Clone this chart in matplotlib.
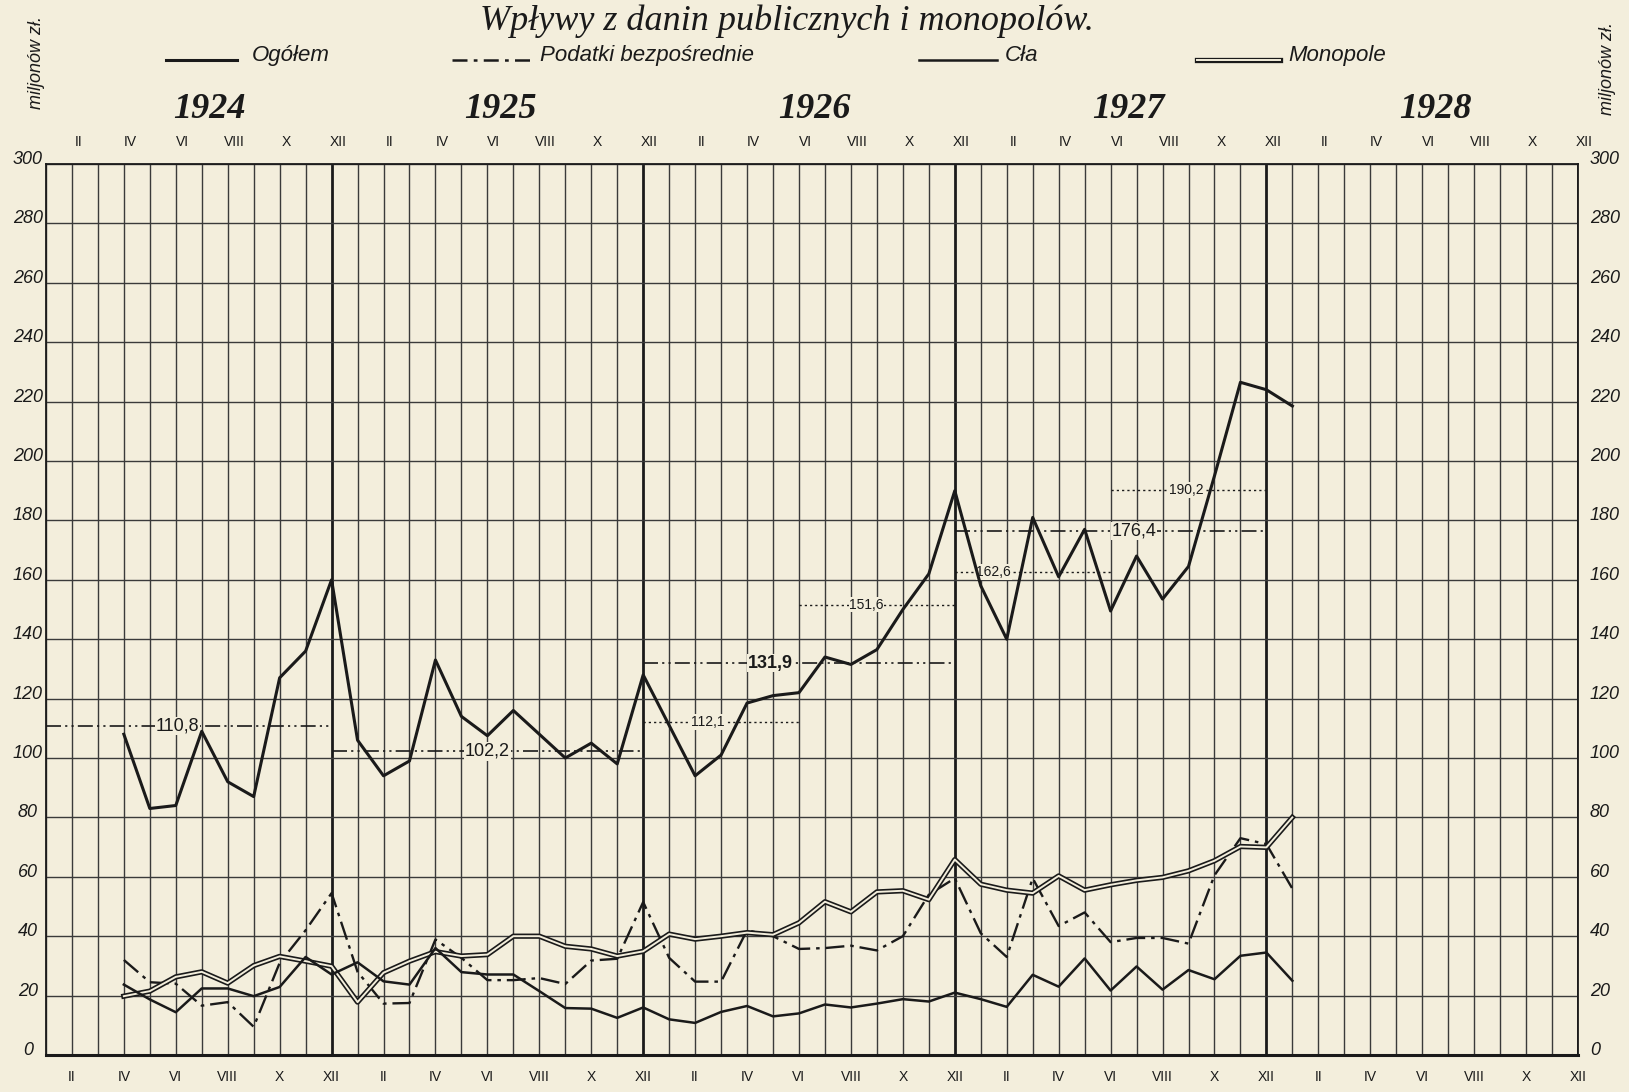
import numpy as np
import matplotlib.pyplot as plt
from matplotlib.lines import Line2D
import matplotlib.transforms as mtransforms

# month index: 0 = I 1924 ... 59 = XII 1928; series run from IV 1924 to I 1928
months = np.arange(3, 49)

ogolem = [108, 83, 84, 109, 92, 87, 127, 136, 160,
          106, 94, 99, 133, 114, 107.5, 116, 108, 100, 105, 98, 128,
          111, 94, 101, 118.5, 121, 122, 134, 131.5, 136.5, 150, 162, 190,
          158, 140, 181, 161, 177, 149.5, 168, 153.5, 164.5, 195, 226.5, 224,
          218.5]
podatki = [32, 24.5, 24, 16.6, 17.8, 9.5, 31, 42, 54.5,
           28, 17.3, 17.5, 38.9, 32.7, 25.2, 25.2, 25.9, 23.9, 31.8, 32.4, 51.5,
           32.7, 24.7, 24.7, 42, 40, 35.7, 36, 36.8, 35.2, 40, 54, 59.5,
           41, 33, 59.5, 43.4, 48, 38, 39.4, 39.4, 37.5, 60.5, 73, 71,
           56]
cla = [23.7, 18.7, 14.4, 22.4, 22.4, 19.8, 22.9, 33, 27.1,
       31.2, 24.8, 23.7, 36, 27.9, 27.1, 27.1, 21.5, 15.8, 15.6, 12.5, 16,
       12, 10.8, 14.5, 16.5, 13, 14, 17, 16, 17.3, 18.8, 18, 21,
       18.8, 16.2, 27, 23, 32.5, 21.7, 29.8, 22, 28.6, 25.5, 33.4, 34.5,
       25]
monopole = [19.8, 21.5, 26.3, 28, 24.2, 30.1, 33.2, 31.6, 29.9,
            17.8, 27.7, 31.6, 34.8, 33.3, 33.8, 40, 40, 36.6, 35.7, 33.3, 34.9,
            40.7, 39, 40, 41.2, 40.5, 44.5, 51.6, 48.2, 54.9, 55.3, 52.3, 65.8,
            57.5, 55.5, 54.5, 60.3, 55.5, 57.3, 58.8, 59.8, 62, 65.4, 70.2, 69.9,
            80]

# averages: value, start month, end month, label month, yearly (else half-year)
avg_values = [110.8, 102.2, 112.1, 131.9, 151.6, 162.6, 176.4, 190.2]
avg_start = [0, 11, 23, 23, 29, 35, 35, 41]
avg_end = [11, 23, 29, 35, 35, 41, 47, 47]
avg_label_x = [5.05, 17.0, 25.5, 27.9, 31.6, 36.5, 41.9, 43.9]
avg_yearly = [True, True, False, True, False, False, True, False]

years = ["1924", "1925", "1926", "1927", "1928"]
month_names = ["II", "IV", "VI", "VIII", "X", "XII"]

bg = '#f3eedc'
ink = '#1a1a1a'
grid_c = '#3a3a3a'

fig = plt.figure(figsize=(16.29, 10.92), dpi=100, facecolor=bg)
ax = fig.add_axes([0.0282, 0.0339, 0.9405, 0.8159])
ax.set_facecolor(bg)
ax.set_xlim(0, 59)
ax.set_ylim(0, 300)

# grid
for m in range(60):
    lw = 2.0 if m % 12 == 11 else 1.0
    ax.axvline(m, color=ink if lw > 1 else grid_c, lw=lw, zorder=1)
for v in range(0, 301, 20):
    ax.axhline(v, color=grid_c, lw=1.0, zorder=1)
for s in ax.spines.values():
    s.set_color(ink)
    s.set_linewidth(1.3)
ax.spines['bottom'].set_linewidth(2.2)
ax.set_xticks([])
ax.set_yticks([])

# average lines
dashdotdot = (0, (9, 2.5, 1.3, 2.5, 1.3, 2.5))
for v, a, b, lx, yearly in zip(avg_values, avg_start, avg_end, avg_label_x, avg_yearly):
    ls = dashdotdot if yearly else (0, (1.6, 2.2))
    ax.plot([a, b], [v, v], color=ink, lw=1.2 if yearly else 1.0, ls=ls, zorder=2)
    txt = f"{v:.1f}".replace('.', ',')
    ax.text(lx, v, txt, ha='center', va='center', zorder=3,
            fontsize=13 if yearly else 10,
            family=['Liberation Sans Narrow', 'Liberation Sans'],
            fontweight='bold' if v == 131.9 else 'normal', color=ink,
            bbox=dict(facecolor=bg, edgecolor='none', pad=0.5))

# series
ax.plot(months, ogolem, color=ink, lw=2.2, zorder=5)
ax.plot(months, cla, color=ink, lw=1.8, zorder=5)
ax.plot(months, podatki, color=ink, lw=1.7, ls=(0, (8, 2.5, 1.5, 2.5)), zorder=4)
ax.plot(months, monopole, color=ink, lw=3.8, zorder=4)
ax.plot(months, monopole, color=bg, lw=1.4, zorder=4)

# month labels top and bottom
tr = mtransforms.blended_transform_factory(ax.transData, ax.transAxes)
for k in range(5):
    for i, name in enumerate(month_names):
        m = 12 * k + 2 * i + 1
        kw = dict(ha='center', va='center', transform=tr, fontsize=10, color=ink,
                  family=['Liberation Sans Narrow', 'Liberation Sans'])
        ax.text(m + 0.25, 1.0247, name, **kw)
        ax.text(m, -0.0247, name, **kw)

# year labels
for k, y in enumerate(years):
    ax.text([6.3, 17.5, 29.6, 41.7, 53.5][k], 1.061, y, transform=tr, ha='center',
            va='center', fontsize=26, style='italic', fontweight='bold',
            family='Liberation Serif', color=ink)

# y tick labels both sides
trl = mtransforms.blended_transform_factory(ax.transAxes, ax.transData)
for v in range(0, 301, 20):
    kw = dict(va='center', transform=trl, fontsize=13, style='italic', color=ink,
              family='Liberation Sans')
    ax.text(-0.0117, v + 1.5, str(v), ha='center', **kw)
    ax.text(1.0078, v + 1.5, str(v), ha='left', **kw)

# unit labels
fig.text(0.0221, 0.943, "miljonów zł.", rotation=90, ha='center', va='center',
         fontsize=13, style='italic', family='Liberation Sans', color=ink)
fig.text(0.9871, 0.9377, "miljonów zł.", rotation=90, ha='center', va='center',
         fontsize=13, style='italic', family='Liberation Sans', color=ink)

# title
fig.text(0.483, 0.9725, "Wpływy z danin publicznych i monopolów.", ha='center',
         va='baseline', fontsize=26, style='italic', family='Liberation Serif',
         color=ink)

# legend
W, H = 1629.0, 1092.0
ly = (H - 60) / H
legend_items = [
    (166, 237, 252, "Ogółem", '-', 2.2, False),
    (452, 535, 540, "Podatki bezpośrednie", (0, (6, 2.5, 1.5, 2.5)), 1.8, False),
    (919, 997, 1005, "Cła", '-', 1.8, False),
    (1197, 1280, 1288, "Monopole", '-', 3.8, True),
]
for x0, x1, xt, name, ls, lw, dbl in legend_items:
    fig.add_artist(Line2D([x0 / W, x1 / W], [ly, ly], color=ink, lw=lw, ls=ls))
    if dbl:
        fig.add_artist(Line2D([x0 / W, x1 / W], [ly, ly], color=bg, lw=1.4))
    fig.text(xt / W, ly - 0.001, name, ha='left', va='baseline', fontsize=16,
             style='italic', family='Liberation Sans', color=ink)

fig.savefig('out.png', dpi=100, facecolor=bg)
